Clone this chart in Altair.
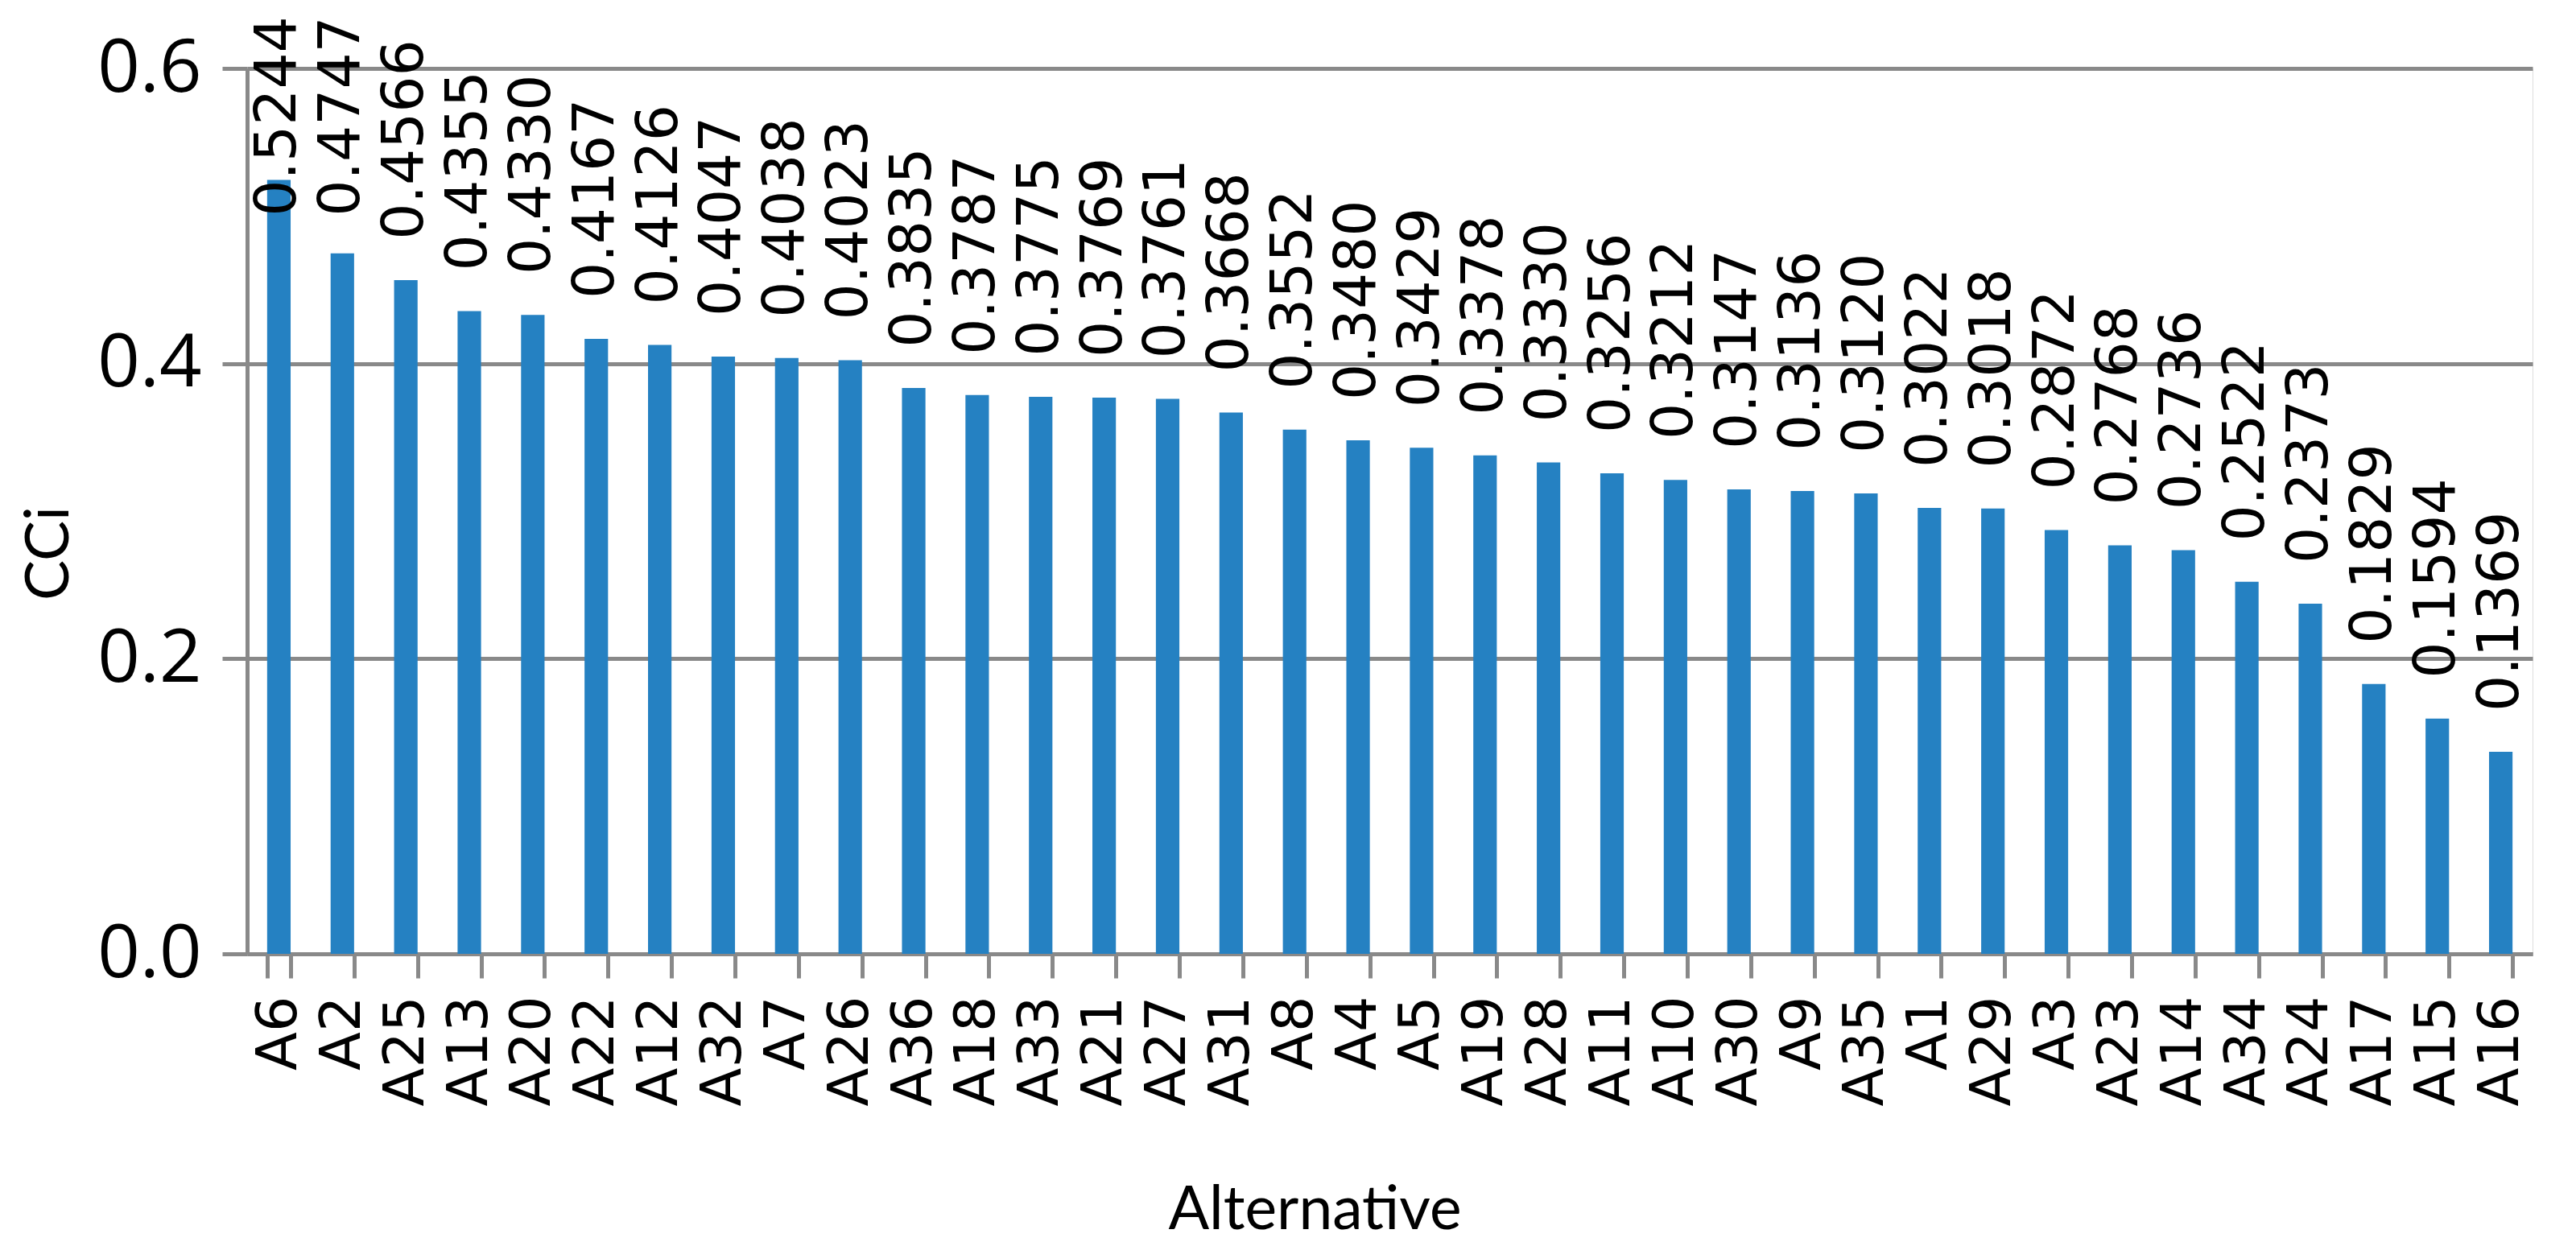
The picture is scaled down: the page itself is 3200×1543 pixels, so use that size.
import altair as alt
import pandas as pd

alternatives = ["A6", "A2", "A25", "A13", "A20", "A22", "A12", "A32", "A7", "A26",
                "A36", "A18", "A33", "A21", "A27", "A31", "A8", "A4", "A5", "A19",
                "A28", "A11", "A10", "A30", "A9", "A35", "A1", "A29", "A3", "A23",
                "A14", "A34", "A24", "A17", "A15", "A16"]
cci = [0.5244, 0.4747, 0.4566, 0.4355, 0.4330, 0.4167, 0.4126, 0.4047, 0.4038, 0.4023,
       0.3835, 0.3787, 0.3775, 0.3769, 0.3761, 0.3668, 0.3552, 0.3480, 0.3429, 0.3378,
       0.3330, 0.3256, 0.3212, 0.3147, 0.3136, 0.3120, 0.3022, 0.3018, 0.2872, 0.2768,
       0.2736, 0.2522, 0.2373, 0.1829, 0.1594, 0.1369]
y_ticks = [0.0, 0.2, 0.4, 0.6]

df = pd.DataFrame({"Alternative": alternatives, "CCi": cci})

GRAY = "#898989"
LW = 5

x_enc = alt.X(
    "Alternative:N",
    sort=alternatives,
    scale=alt.Scale(paddingInner=0.63, paddingOuter=0.315),
    axis=alt.Axis(
        title="Alternative",
        titleFont="Lato", titleFontSize=75, titleFontWeight="normal", titleColor="black",
        titleX=1326, titleY=318, titleBaseline="middle", titleAlign="center",
        labelFont="DejaVu Sans", labelFontSize=70, labelColor="black",
        labelAngle=270, labelAlign="right", labelBaseline="middle", labelPadding=22,
        tickBand="extent", tickSize=30, tickWidth=LW, tickColor=GRAY,
        domainColor=GRAY, domainWidth=LW, grid=False,
    ),
)

y_enc = alt.Y(
    "CCi:Q",
    scale=alt.Scale(domain=[0, 0.6], nice=False),
    axis=alt.Axis(
        title="CCi", values=y_ticks, format=".1f",
        titleFont="Lato", titleFontSize=75, titleFontWeight="normal", titleColor="black",
        titleX=-246, titleY=602, titleBaseline="middle", titleAlign="center", titleAngle=270,
        labelFont="Open Sans", labelFontSize=92, labelColor="black", labelPadding=26,
        tickSize=31, tickWidth=LW, tickColor=GRAY,
        domainColor=GRAY, domainWidth=LW,
        grid=True, gridColor=GRAY, gridWidth=LW, gridOpacity=1,
    ),
)

bars = alt.Chart(df).mark_bar(color="#2581C2").encode(x=x_enc, y=y_enc)

labels = alt.Chart(df).transform_calculate(
    label_pos="min(datum.CCi + 0.0273, 0.4998)"
).mark_text(
    angle=270, align="left", baseline="middle",
    font="DejaVu Sans", fontSize=71, color="black",
).encode(
    x=alt.X("Alternative:N", sort=alternatives),
    y=alt.Y("label_pos:Q"),
    text=alt.Text("CCi:Q", format=".4f"),
)

chart = alt.layer(bars, labels).properties(
    width=2839, height=1100,
    autosize=alt.AutoSizeParams(type="none"),
    padding={"left": 299, "top": 77, "right": 40, "bottom": 358},
).configure_view(stroke=None).configure(background="white")

chart.save("out.html", embed_options={"renderer": "svg", "actions": False})
